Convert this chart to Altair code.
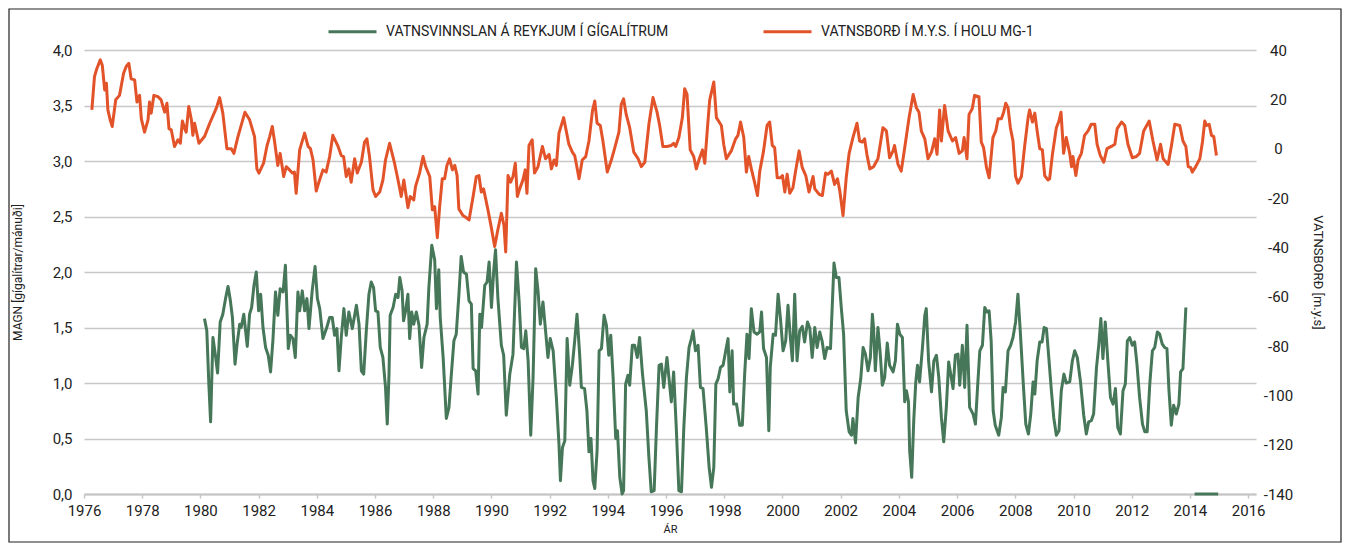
import altair as alt
import pandas as pd

GREEN_NAME = "VATNSVINNSLAN Á REYKJUM Í GÍGALÍTRUM"
ORANGE_NAME = "VATNSBORÐ Í M.Y.S. Í HOLU MG-1"
GREEN = "#467758"
ORANGE = "#e2532a"

# Vatnsvinnsla (gígalítrar / mánuði)
vinnsla_ar = [
    1980.14, 1980.22, 1980.29, 1980.35, 1980.43, 1980.51, 1980.59, 1980.68, 1980.77, 1980.87, 1980.95,
    1981.03, 1981.10, 1981.19, 1981.26, 1981.35, 1981.40, 1981.49, 1981.54, 1981.61, 1981.69, 1981.76, 1981.84, 1981.92,
    1982.00, 1982.07, 1982.15, 1982.24, 1982.33, 1982.41, 1982.49, 1982.58, 1982.66, 1982.74, 1982.84, 1982.92,
    1983.02, 1983.09, 1983.18, 1983.26, 1983.35, 1983.41, 1983.50, 1983.58, 1983.66, 1983.73, 1983.84, 1983.94,
    1984.02, 1984.10, 1984.21, 1984.33, 1984.44, 1984.53, 1984.61, 1984.69, 1984.76, 1984.84, 1984.93,
    1985.01, 1985.10, 1985.22, 1985.36, 1985.45, 1985.53, 1985.61, 1985.70, 1985.79, 1985.87, 1985.95,
    1986.02, 1986.10, 1986.18, 1986.27, 1986.36, 1986.42, 1986.48, 1986.52, 1986.62, 1986.71, 1986.79, 1986.85, 1986.93, 1986.98,
    1987.05, 1987.13, 1987.19, 1987.26, 1987.33, 1987.42, 1987.51, 1987.60, 1987.68, 1987.79, 1987.85, 1987.95,
    1988.05, 1988.11, 1988.19, 1988.24, 1988.34, 1988.45, 1988.54, 1988.62, 1988.71, 1988.79, 1988.88, 1988.96,
    1989.04, 1989.14, 1989.23, 1989.31, 1989.37, 1989.46, 1989.54, 1989.60, 1989.66, 1989.77, 1989.85, 1989.92,
    1990.00, 1990.08, 1990.14, 1990.22, 1990.34, 1990.42, 1990.51, 1990.63, 1990.74, 1990.86, 1990.95,
    1991.03, 1991.11, 1991.18, 1991.26, 1991.35, 1991.43, 1991.52, 1991.60, 1991.68, 1991.77, 1991.86, 1991.94,
    1992.02, 1992.12, 1992.23, 1992.32, 1992.37, 1992.44, 1992.52, 1992.60, 1992.69, 1992.78, 1992.86, 1992.94,
    1993.03, 1993.09, 1993.20, 1993.28, 1993.35, 1993.42, 1993.49, 1993.55, 1993.63, 1993.70, 1993.78, 1993.87, 1993.95,
    1994.03, 1994.10, 1994.18, 1994.27, 1994.33, 1994.41, 1994.49, 1994.54, 1994.61, 1994.69, 1994.75, 1994.84, 1994.92,
    1995.01, 1995.09, 1995.19, 1995.32, 1995.41, 1995.49, 1995.59, 1995.67, 1995.76, 1995.84, 1995.92,
    1996.03, 1996.12, 1996.18, 1996.26, 1996.35, 1996.44, 1996.53, 1996.61, 1996.70, 1996.79, 1996.87, 1996.93,
    1997.01, 1997.10, 1997.18, 1997.27, 1997.38, 1997.48, 1997.56, 1997.64, 1997.71, 1997.79, 1997.87, 1997.96,
    1998.05, 1998.13, 1998.19, 1998.27, 1998.32, 1998.42, 1998.53, 1998.62, 1998.70, 1998.78, 1998.85, 1998.93,
    1999.02, 1999.13, 1999.22, 1999.28, 1999.35, 1999.45, 1999.53, 1999.58, 1999.68, 1999.76, 1999.85, 1999.93,
    2000.02, 2000.11, 2000.19, 2000.27, 2000.34, 2000.42, 2000.50, 2000.59, 2000.68, 2000.76, 2000.86, 2000.94,
    2001.02, 2001.11, 2001.19, 2001.28, 2001.36, 2001.45, 2001.53, 2001.65, 2001.77, 2001.85, 2001.94,
    2002.02, 2002.10, 2002.19, 2002.29, 2002.37, 2002.42, 2002.51, 2002.60, 2002.69, 2002.77, 2002.85, 2002.94,
    2003.02, 2003.09, 2003.13, 2003.19, 2003.28, 2003.36, 2003.43, 2003.51, 2003.60, 2003.68, 2003.80, 2003.88, 2003.95,
    2004.03, 2004.12, 2004.20, 2004.26, 2004.33, 2004.37, 2004.44, 2004.51, 2004.58, 2004.64, 2004.71, 2004.81, 2004.89, 2004.94,
    2005.02, 2005.12, 2005.20, 2005.29, 2005.37, 2005.46, 2005.54, 2005.63, 2005.71, 2005.78, 2005.86, 2005.94,
    2006.03, 2006.09, 2006.18, 2006.26, 2006.34, 2006.43, 2006.55, 2006.63, 2006.70, 2006.78, 2006.87, 2006.95,
    2007.03, 2007.10, 2007.17, 2007.24, 2007.31, 2007.43, 2007.52, 2007.58, 2007.66, 2007.75, 2007.84, 2007.92,
    2008.01, 2008.09, 2008.17, 2008.27, 2008.36, 2008.45, 2008.53, 2008.61, 2008.67, 2008.75, 2008.84, 2008.92, 2008.99,
    2009.07, 2009.15, 2009.24, 2009.32, 2009.41, 2009.50, 2009.58, 2009.67, 2009.75, 2009.87, 2009.96,
    2010.04, 2010.13, 2010.24, 2010.35, 2010.44, 2010.52, 2010.61, 2010.69, 2010.79, 2010.87, 2010.94,
    2011.01, 2011.09, 2011.19, 2011.27, 2011.36, 2011.44, 2011.52, 2011.61, 2011.70, 2011.78, 2011.85, 2011.93,
    2012.02, 2012.10, 2012.18, 2012.27, 2012.37, 2012.45, 2012.53, 2012.62, 2012.71, 2012.79, 2012.88, 2012.96,
    2013.05, 2013.13, 2013.21, 2013.28, 2013.36, 2013.44, 2013.53, 2013.62, 2013.68, 2013.76, 2013.86,
]
vinnsla_gl = [
    1.58, 1.47, 0.99, 0.65, 1.41, 1.26, 1.09, 1.55, 1.62, 1.77, 1.87,
    1.74, 1.59, 1.17, 1.35, 1.53, 1.50, 1.62, 1.50, 1.33, 1.62, 1.68, 1.88, 2.00,
    1.65, 1.80, 1.50, 1.32, 1.25, 1.10, 1.38, 1.82, 1.61, 1.85, 1.82, 2.06,
    1.31, 1.43, 1.40, 1.23, 1.82, 1.65, 1.83, 1.65, 1.76, 1.49, 1.83, 2.05,
    1.76, 1.67, 1.40, 1.49, 1.59, 1.59, 1.43, 1.49, 1.11, 1.41, 1.67,
    1.43, 1.64, 1.49, 1.70, 1.53, 1.11, 1.08, 1.47, 1.80, 1.91, 1.86,
    1.65, 1.64, 1.32, 1.23, 0.96, 0.63, 1.08, 1.61, 1.68, 1.80, 1.77, 1.95, 1.83, 1.56,
    1.65, 1.80, 1.40, 1.64, 1.53, 1.64, 1.52, 1.14, 1.41, 1.53, 1.86, 2.24,
    2.11, 1.67, 2.02, 1.59, 1.23, 0.68, 0.78, 1.07, 1.38, 1.44, 1.79, 2.14,
    2.00, 1.98, 1.74, 1.71, 1.13, 1.11, 0.90, 1.62, 1.50, 1.88, 1.91, 2.09,
    1.68, 2.02, 2.20, 1.77, 1.34, 1.25, 0.71, 1.08, 1.26, 2.09, 1.74,
    1.32, 1.31, 1.47, 1.20, 0.53, 1.05, 2.03, 1.83, 1.53, 1.73, 1.47, 1.23,
    1.40, 1.29, 0.87, 0.45, 0.12, 0.42, 0.48, 1.40, 0.98, 1.16, 1.38, 1.62,
    1.26, 0.96, 0.95, 0.75, 0.38, 0.50, 0.12, 0.05, 0.39, 1.29, 1.31, 1.61, 1.52,
    1.25, 1.43, 1.05, 0.50, 0.57, 0.15, 0.00, 0.03, 0.99, 1.07, 0.98, 1.34, 1.34,
    1.23, 1.41, 1.08, 0.75, 0.33, 0.02, 0.03, 0.60, 1.16, 1.17, 0.96,
    1.23, 0.99, 0.83, 1.10, 0.60, 0.03, 0.02, 0.60, 1.05, 1.32, 1.40, 1.47,
    1.29, 1.34, 0.96, 0.95, 0.60, 0.24, 0.06, 0.24, 0.99, 1.04, 1.14, 1.16,
    1.29, 1.40, 0.92, 1.29, 0.81, 0.81, 0.62, 0.62, 1.08, 1.44, 1.22, 1.67,
    1.46, 1.44, 1.46, 1.64, 1.31, 1.23, 0.57, 1.14, 1.44, 1.43, 1.80, 1.58,
    1.29, 1.38, 1.70, 1.41, 1.20, 1.80, 1.20, 1.47, 1.51, 1.37, 1.55, 1.49,
    1.23, 1.50, 1.32, 1.46, 1.38, 1.22, 1.32, 1.31, 2.08, 1.95, 1.95,
    1.68, 1.44, 0.75, 0.56, 0.53, 0.68, 0.46, 0.87, 1.04, 1.32, 1.26, 1.11,
    1.23, 1.62, 1.49, 1.11, 1.50, 1.26, 0.98, 1.05, 1.36, 1.16, 1.10, 1.20, 1.53,
    1.44, 1.41, 0.83, 0.93, 0.83, 0.39, 0.15, 0.66, 1.01, 1.16, 1.01, 1.32, 1.61, 1.67,
    1.20, 0.92, 1.20, 1.25, 1.05, 0.69, 0.47, 0.78, 1.19, 1.08, 0.95, 1.25,
    1.26, 0.98, 1.34, 0.96, 1.52, 0.78, 0.72, 0.63, 0.95, 1.29, 1.34, 1.68,
    1.64, 1.65, 1.38, 0.75, 0.62, 0.53, 0.69, 0.96, 0.92, 1.29, 1.34, 1.41,
    1.55, 1.80, 1.47, 1.01, 0.63, 0.54, 0.72, 1.01, 0.90, 1.20, 1.37, 1.37, 1.50,
    1.49, 1.23, 0.93, 0.69, 0.53, 0.57, 0.93, 1.08, 1.00, 1.01, 1.20,
    1.29, 1.23, 1.01, 0.71, 0.54, 0.65, 0.66, 0.72, 1.14, 1.35, 1.58,
    1.22, 1.55, 1.16, 0.87, 0.81, 0.95, 0.60, 0.54, 0.93, 0.99, 1.38, 1.41,
    1.34, 1.37, 1.17, 0.87, 0.63, 0.56, 0.56, 0.99, 1.29, 1.32, 1.46, 1.44,
    1.35, 1.32, 1.31, 0.93, 0.62, 0.80, 0.72, 0.81, 1.10, 1.13, 1.68,
]
# Stutt núll-bil í lok ferilsins
vinnsla_lok_ar = [2014.16, 2014.97]
vinnsla_lok_gl = [0.0, 0.0]

# Vatnsborð í holu MG-1 (m.y.s.)
bord_ar = [
    1976.27, 1976.36, 1976.44, 1976.56, 1976.63, 1976.71, 1976.77, 1976.82, 1976.90, 1976.97,
    1977.09, 1977.22, 1977.36, 1977.45, 1977.54, 1977.62, 1977.74, 1977.82, 1977.91, 1977.97,
    1978.08, 1978.20, 1978.25, 1978.31, 1978.40, 1978.54, 1978.65, 1978.77, 1978.85, 1978.92,
    1979.00, 1979.11, 1979.23, 1979.31, 1979.38, 1979.46, 1979.51, 1979.60, 1979.69, 1979.74, 1979.80, 1979.95,
    1980.14, 1980.32, 1980.54, 1980.66, 1980.77, 1980.91,
    1981.06, 1981.15, 1981.29, 1981.53, 1981.69, 1981.86, 1981.94,
    1982.01, 1982.17, 1982.29, 1982.38, 1982.47, 1982.55, 1982.66, 1982.74, 1982.86, 1982.95,
    1983.06, 1983.16, 1983.23, 1983.29, 1983.41, 1983.58, 1983.70, 1983.78, 1983.87, 1983.98,
    1984.07, 1984.21, 1984.32, 1984.44, 1984.55, 1984.73, 1984.84, 1984.92,
    1985.01, 1985.10, 1985.18, 1985.30, 1985.39, 1985.53, 1985.64, 1985.72, 1985.81, 1985.93,
    1986.02, 1986.16, 1986.27, 1986.36, 1986.50, 1986.67, 1986.79, 1986.90, 1986.99,
    1987.13, 1987.21, 1987.33, 1987.39, 1987.53, 1987.65, 1987.74, 1987.88, 1987.97,
    1988.05, 1988.14, 1988.22, 1988.31, 1988.39, 1988.47, 1988.56, 1988.66, 1988.74, 1988.82, 1988.88,
    1989.02, 1989.14, 1989.23, 1989.37, 1989.48, 1989.57, 1989.65, 1989.73, 1989.88, 1989.99,
    1990.11, 1990.22, 1990.34, 1990.43, 1990.49, 1990.57, 1990.66, 1990.74, 1990.82, 1990.89, 1990.97,
    1991.08, 1991.16, 1991.22, 1991.29, 1991.40, 1991.48, 1991.60, 1991.75, 1991.86, 1991.98,
    1992.06, 1992.15, 1992.23, 1992.32, 1992.48, 1992.57, 1992.66, 1992.78, 1992.86, 1992.92,
    1993.01, 1993.12, 1993.24, 1993.35, 1993.47, 1993.55, 1993.63, 1993.74, 1993.83, 1993.98,
    1994.12, 1994.23, 1994.38, 1994.46, 1994.54, 1994.63, 1994.75, 1994.89,
    1995.04, 1995.15, 1995.27, 1995.41, 1995.55, 1995.69, 1995.78, 1995.89,
    1996.03, 1996.18, 1996.26, 1996.33, 1996.44, 1996.56, 1996.64, 1996.72, 1996.83, 1996.95,
    1997.04, 1997.13, 1997.25, 1997.33, 1997.44, 1997.50, 1997.64, 1997.73, 1997.90, 1997.98,
    1998.07, 1998.24, 1998.39, 1998.47, 1998.56, 1998.67, 1998.76, 1998.84, 1998.93,
    1999.04, 1999.14, 1999.22, 1999.35, 1999.47, 1999.56, 1999.65, 1999.73, 1999.82, 1999.93,
    2000.00, 2000.08, 2000.16, 2000.25, 2000.36, 2000.45, 2000.57, 2000.68, 2000.80, 2000.91,
    2001.05, 2001.11, 2001.26, 2001.37, 2001.48, 2001.56, 2001.68, 2001.79, 2001.89, 2001.97,
    2002.08, 2002.19, 2002.29, 2002.42, 2002.56, 2002.65, 2002.74, 2002.82, 2002.90,
    2003.00, 2003.13, 2003.28, 2003.36, 2003.45, 2003.57, 2003.68, 2003.80, 2003.85, 2003.97,
    2004.08, 2004.20, 2004.35, 2004.49, 2004.60, 2004.69, 2004.77, 2004.89,
    2005.00, 2005.12, 2005.23, 2005.31, 2005.40, 2005.46, 2005.57, 2005.69, 2005.84, 2005.95,
    2006.07, 2006.18, 2006.24, 2006.34, 2006.41, 2006.52, 2006.60, 2006.75, 2006.83, 2006.91,
    2007.01, 2007.10, 2007.23, 2007.33, 2007.41, 2007.52, 2007.60, 2007.67, 2007.75, 2007.83, 2007.92,
    2008.01, 2008.09, 2008.21, 2008.32, 2008.44, 2008.49, 2008.59, 2008.67, 2008.75, 2008.84, 2008.93,
    2009.01, 2009.12, 2009.18, 2009.27, 2009.41, 2009.50, 2009.57, 2009.66, 2009.75, 2009.87, 2009.93, 2009.98,
    2010.08, 2010.16, 2010.27, 2010.38, 2010.50, 2010.61, 2010.73, 2010.81, 2010.92,
    2011.04, 2011.15, 2011.30, 2011.42, 2011.50, 2011.65, 2011.76, 2011.87,
    2012.02, 2012.16, 2012.27, 2012.41, 2012.60, 2012.73, 2012.87, 2012.99,
    2013.08, 2013.25, 2013.36, 2013.48, 2013.65, 2013.76, 2013.86, 2013.94,
    2014.03, 2014.08, 2014.20, 2014.34, 2014.43, 2014.51, 2014.57, 2014.66, 2014.74, 2014.82, 2014.91,
]
bord_mys = [
    15.7, 29.2, 32.4, 36.0, 33.7, 23.8, 26.5, 15.7, 11.7, 9.0,
    19.8, 21.6, 30.6, 33.3, 34.6, 28.3, 27.9, 18.9, 21.6, 12.1,
    6.7, 11.7, 18.9, 14.4, 21.6, 21.1, 19.8, 14.8, 18.4, 8.1,
    7.6, 0.9, 3.6, 2.2, 11.2, 8.1, 6.7, 17.1, 11.7, 5.4, 10.3, 2.2,
    4.9, 10.3, 16.2, 20.7, 14.4, 0.0,
    0.0, -1.9, 4.9, 14.8, 11.7, 4.9, -8.2,
    -9.9, -5.9, 1.3, 4.9, 9.0, 2.7, -6.8, -1.9, -11.3, -7.3,
    -8.6, -9.9, -9.5, -18.1, -0.5, 6.3, 0.9, 0.0, -4.6, -17.2,
    -13.6, -8.6, -9.5, -3.2, 5.4, 0.9, -2.8, -3.2,
    -11.3, -8.2, -13.6, -4.1, -9.9, -5.5, 2.7, 4.0, -3.2, -16.7,
    -19.4, -17.6, -12.7, -4.6, 2.2, -5.9, -12.7, -19.4, -12.7,
    -23.9, -19.4, -20.8, -15.4, -9.9, -3.2, -7.3, -11.3, -24.8,
    -23.5, -36.1, -23.5, -12.2, -12.2, -6.8, -4.1, -8.6, -6.8, -10.9, -24.4,
    -27.1, -28.0, -28.9, -19.4, -11.3, -10.9, -17.6, -16.3, -24.8, -31.6,
    -39.7, -32.9, -26.2, -31.1, -41.9, -10.9, -13.6, -11.3, -5.9, -19.4, -16.3,
    -12.7, -8.6, -18.1, 1.3, 3.6, -9.9, -7.3, 0.9, -4.1, -2.3,
    -8.2, -4.6, -6.8, 6.3, 12.6, 7.2, 1.8, -1.4, -2.8, -6.4,
    -12.2, -4.6, -3.2, 3.1, 15.3, 19.3, 10.3, 9.4, 3.1, -9.5,
    -4.6, 0.0, 6.7, 18.0, 20.2, 13.9, 8.5, -1.4,
    -4.1, -7.3, -5.5, 9.9, 20.7, 14.8, 9.4, 0.9,
    0.9, 1.3, 2.2, 0.9, 4.5, 12.6, 24.3, 22.0, -0.5, -3.2,
    -8.2, -4.6, -0.5, -5.9, 11.2, 19.8, 27.0, 12.6, 9.4, 1.8,
    -4.1, -0.9, 4.0, 5.4, 10.8, 4.5, -9.5, -3.2, -8.2,
    -13.6, -19.0, -9.1, -0.9, 9.4, 10.8, 1.3, 0.4, -11.8, -11.8,
    -10.9, -17.6, -10.4, -18.1, -15.8, -9.1, -0.9, -7.7, -10.9, -17.6,
    -11.3, -16.3, -18.5, -19.0, -9.9, -10.4, -9.1, -14.5, -12.2, -17.2,
    -27.1, -11.8, -1.9, 4.5, 10.3, 3.1, 2.7, 4.0, -2.3,
    -8.2, -7.3, -4.1, 1.8, 8.5, 7.2, -3.7, -0.9, 1.3, -6.4,
    -9.1, 0.4, 12.6, 22.0, 16.6, 14.8, 7.2, 4.0,
    -4.1, -1.4, 4.0, -2.3, 15.7, 3.1, 17.5, 7.2, 3.1, 4.5,
    -1.9, -0.9, 4.5, -4.1, 13.9, 16.2, 21.6, 21.1, 2.7, 0.4,
    -7.7, -11.8, 4.5, 7.2, 12.1, 12.1, 14.8, 18.4, 16.6, 8.5, 3.1,
    -11.3, -14.0, -11.3, 0.9, 12.6, 15.7, 10.8, 14.4, 7.2, 0.0, -0.5,
    -10.9, -12.7, -12.2, -2.8, 8.5, 11.2, 14.8, -1.9, 4.5, -1.9, -7.3, -3.2,
    -10.9, -4.6, -1.9, 5.4, 7.2, 9.9, 9.9, 1.8, -2.8,
    -5.5, 0.0, 0.9, 1.8, 8.1, 10.8, 9.4, 1.8,
    -3.7, -3.2, -1.9, 7.2, 11.2, 3.1, -4.6, 1.8,
    -4.1, -6.4, 0.9, 9.9, 9.4, 3.1, 0.9, -7.3,
    -7.7, -9.5, -7.3, -4.1, 2.7, 11.2, 9.4, 9.9, 5.4, 4.9, -2.8,
]

x_ticks = list(range(1976, 2017, 2))
left_ticks = [0.0, 0.5, 1.0, 1.5, 2.0, 2.5, 3.0, 3.5, 4.0]
right_ticks = [-140, -120, -100, -80, -60, -40, -20, 0, 20, 40]

green_df = pd.DataFrame({
    "ar": vinnsla_ar + vinnsla_lok_ar,
    "gl": vinnsla_gl + vinnsla_lok_gl,
    "hluti": [0] * len(vinnsla_ar) + [1] * len(vinnsla_lok_ar),
    "series": GREEN_NAME,
})
orange_df = pd.DataFrame({"ar": bord_ar, "mys": bord_mys, "series": ORANGE_NAME})

FONT = "Roboto"
TXT = "#222222"

x_enc = alt.X(
    "ar:Q",
    scale=alt.Scale(domain=[1976, 2016.27], nice=False, zero=False),
    axis=alt.Axis(
        values=x_ticks, title="ÁR", labelExpr="'' + datum.value",
        domainColor="#c4c4c4", domainWidth=2, tickColor="#c4c4c4", tickSize=4, tickWidth=1.5,
        labelFontSize=15, labelPadding=5, labelColor=TXT, labelFont=FONT,
        titleFontSize=11, titleFontWeight="normal", titleColor=TXT, titleFont=FONT, titlePadding=5,
        grid=False, labelFlush=False,
    ),
)

color_enc = alt.Color(
    "series:N",
    scale=alt.Scale(domain=[GREEN_NAME, ORANGE_NAME], range=[GREEN, ORANGE]),
    legend=alt.Legend(
        title=None, orient="none", legendX=243, legendY=-44, direction="horizontal",
        symbolType="stroke", symbolSize=2304, symbolStrokeWidth=3, labelOffset=8,
        labelFontSize=14, labelFont=FONT, labelColor=TXT, labelLimit=0, columnPadding=88,
    ),
)

green = alt.Chart(green_df).mark_line(strokeWidth=3, strokeJoin="round").encode(
    x=x_enc,
    y=alt.Y(
        "gl:Q",
        scale=alt.Scale(domain=[0, 4], nice=False),
        axis=alt.Axis(
            orient="left", values=left_ticks, title="MAGN [gígalítrar/mánuði]",
            labelExpr="replace(format(datum.value, '.1f'), '.', ',')",
            grid=True, gridColor="#c8c8c8", gridWidth=1.5, domain=False, ticks=False,
            labelFontSize=15, labelPadding=12, labelColor=TXT, labelFont=FONT,
            titleFontSize=12, titleFontWeight="normal", titleColor=TXT, titleFont=FONT, titlePadding=28,
        ),
    ),
    color=color_enc,
    detail="hluti:N",
)

orange = alt.Chart(orange_df).mark_line(strokeWidth=3, strokeJoin="round").encode(
    x=alt.X("ar:Q"),
    y=alt.Y(
        "mys:Q",
        scale=alt.Scale(domain=[-140, 40], nice=False),
        axis=alt.Axis(
            orient="right", values=right_ticks, title="VATNSBORÐ [m.y.s]",
            labelExpr="'' + datum.value", grid=False, domain=False, ticks=False,
            labelFontSize=15, labelPadding=22, labelAlign="center", labelColor=TXT, labelFont=FONT,
            titleFontSize=13, titleFontWeight="normal", titleColor=TXT, titleFont=FONT, titlePadding=18,
        ),
    ),
    color=alt.Color("series:N"),
)

frame = alt.Chart(pd.DataFrame({"k": [0]})).mark_rect(
    fillOpacity=0, stroke="#222222", strokeWidth=1.2
).encode(
    x=alt.value(-75), x2=alt.value(1257), y=alt.value(-41), y2=alt.value(492)
)

chart = alt.layer(green, orange, frame).resolve_scale(y="independent").properties(
    width=1172, height=444,
    autosize=alt.AutoSizeParams(type="none"),
    padding={"left": 76, "top": 42, "right": 88, "bottom": 50},
    background="white",
).configure_view(stroke=None)

chart.save("out.html", embed_options={"renderer": "svg", "actions": False})
